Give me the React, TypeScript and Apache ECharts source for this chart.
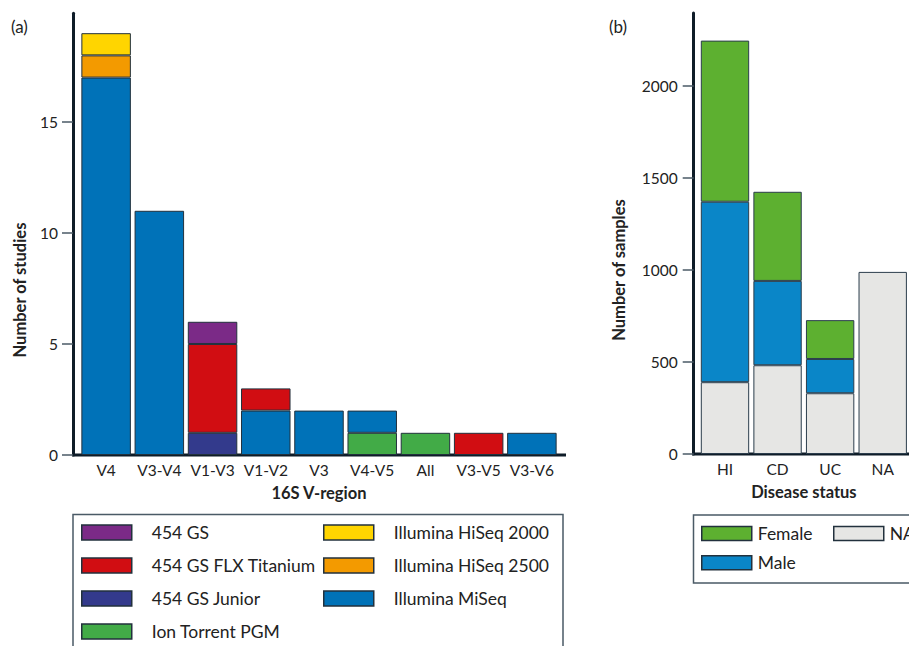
import React, { useEffect, useRef } from "react";
import * as echarts from "echarts";

// ---- Panel (a): platforms per 16S V-region ----
const regions = ["V4", "V3-V4", "V1-V3", "V1-V2", "V3", "V4-V5", "All", "V3-V5", "V3-V6"];
const ionTorrentPGM = [0, 0, 0, 0, 0, 1, 1, 0, 0];
const illuminaMiSeq = [17, 11, 0, 2, 2, 1, 0, 0, 1];
const illuminaHiSeq2500 = [1, 0, 0, 0, 0, 0, 0, 0, 0];
const illuminaHiSeq2000 = [1, 0, 0, 0, 0, 0, 0, 0, 0];
const gsJunior = [0, 0, 1, 0, 0, 0, 0, 0, 0];
const gsFlxTitanium = [0, 0, 4, 1, 0, 0, 0, 1, 0];
const gs454 = [0, 0, 1, 0, 0, 0, 0, 0, 0];
const studyTicks = [0, 5, 10, 15];

// ---- Panel (b): samples per disease status ----
const statuses = ["HI", "CD", "UC", "NA"];
const naSamples = [390, 482, 330, 989];
const maleSamples = [980, 458, 186, 0];
const femaleSamples = [875, 484, 211, 0];
const sampleTicks = [0, 500, 1000, 1500, 2000];

const FONT = "Lato";
const TXT = "#222222";
const AXIS = "#0e1c28";
const TICK = "#4a5a66";
const BORDER = "#22313d";

const clean = (arr: number[]) => arr.map((v) => (v === 0 ? "-" : v));

export default function App() {
  const ref = useRef<HTMLDivElement>(null);

  useEffect(() => {
    if (!ref.current) return;
    const chart = echarts.init(ref.current, null, { renderer: "svg" });

    const seriesA = [
      { name: "Ion Torrent PGM", data: ionTorrentPGM, color: "#42ab47" },
      { name: "Illumina MiSeq", data: illuminaMiSeq, color: "#0072b8" },
      { name: "Illumina HiSeq 2500", data: illuminaHiSeq2500, color: "#f39a00" },
      { name: "Illumina HiSeq 2000", data: illuminaHiSeq2000, color: "#ffd500" },
      { name: "454 GS Junior", data: gsJunior, color: "#333a8c" },
      { name: "454 GS FLX Titanium", data: gsFlxTitanium, color: "#d10d12" },
      { name: "454 GS", data: gs454, color: "#7b2a87" },
    ].map((s) => ({
      type: "bar",
      name: s.name,
      stack: "a",
      xAxisIndex: 0,
      yAxisIndex: 0,
      barCategoryGap: "7%",
      data: clean(s.data),
      itemStyle: { color: s.color, borderColor: BORDER, borderWidth: 1 },
      emphasis: { disabled: true },
    }));

    const seriesB = [
      { name: "NA", data: naSamples, color: "#e6e6e4" },
      { name: "Male", data: maleSamples, color: "#0a86c8" },
      { name: "Female", data: femaleSamples, color: "#5db030" },
    ].map((s) => ({
      type: "bar",
      name: s.name,
      stack: "b",
      xAxisIndex: 1,
      yAxisIndex: 1,
      barCategoryGap: "8%",
      data: clean(s.data),
      itemStyle: { color: s.color, borderColor: "#2b3d4c", borderWidth: 1 },
      emphasis: { disabled: true },
    }));

    const yAxisCommon = (max: number, interval: number, offset: number, margin: number, ticks: number[]) => ({
      type: "value",
      min: 0,
      max,
      interval,
      offset,
      axisLine: { show: true, lineStyle: { color: AXIS, width: 3 } },
      axisTick: { show: true, length: 11, lineStyle: { color: TICK, width: 1.5 } },
      axisLabel: {
        fontFamily: FONT,
        fontSize: 15.5,
        color: TXT,
        margin,
        showMaxLabel: false,
        formatter: (v: number) => (ticks.includes(v) ? String(v) : ""),
      },
      splitLine: { show: false },
    });

    const xAxisCommon = (data: string[], name: string) => ({
      type: "category",
      data,
      name,
      nameLocation: "middle",
      nameGap: 29,
      nameTextStyle: { fontFamily: FONT, fontSize: 16.5, fontWeight: "bold", color: TXT },
      axisLine: { show: false },
      axisTick: { show: false },
      axisLabel: { fontFamily: FONT, fontSize: 15.5, color: TXT, margin: 7, interval: 0 },
    });

    const legendCommon = {
      orient: "vertical",
      icon: "rect",
      itemWidth: 50,
      padding: 0,
      selectedMode: false,
      itemStyle: { borderColor: BORDER, borderWidth: 1.5 },
    };

    chart.setOption({
      animation: false,
      grid: [
        { left: 79.5, width: 479, top: 13.2, height: 441.8 },
        { left: 698.7, width: 214, top: 13, height: 441 },
      ],
      xAxis: [
        { ...xAxisCommon(regions, "16S V-region"), gridIndex: 0 },
        { ...xAxisCommon(statuses, "Disease status"), gridIndex: 1 },
      ],
      yAxis: [
        { ...yAxisCommon(19.9, 5, 6.5, 15, studyTicks), gridIndex: 0 },
        { ...yAxisCommon(2395, 500, 5, 16, sampleTicks), gridIndex: 1 },
      ],
      legend: [
        {
          ...legendCommon,
          left: 81,
          top: 523.5,
          height: 122.5,
          itemHeight: 15,
          itemGap: 15,
          data: ["454 GS", "454 GS FLX Titanium", "454 GS Junior", "Ion Torrent PGM"],
          textStyle: { fontFamily: FONT, fontSize: 17.5, color: TXT, padding: [0, 0, 0, 15] },
        },
        {
          ...legendCommon,
          left: 323,
          top: 523.5,
          height: 122.5,
          itemHeight: 15,
          itemGap: 15,
          data: ["Illumina HiSeq 2000", "Illumina HiSeq 2500", "Illumina MiSeq"],
          textStyle: { fontFamily: FONT, fontSize: 17.5, color: TXT, padding: [0, 0, 0, 15] },
        },
        {
          ...legendCommon,
          left: 701,
          top: 524.5,
          itemHeight: 14,
          itemGap: 11.2,
          data: ["Female", "Male"],
          textStyle: { fontFamily: FONT, fontSize: 17.5, color: TXT, padding: [0, 0, 0, 1] },
        },
        {
          ...legendCommon,
          left: 833,
          top: 524.5,
          itemHeight: 14,
          itemGap: 11.2,
          data: ["NA"],
          textStyle: { fontFamily: FONT, fontSize: 17.5, color: TXT, padding: [0, 0, 0, 1] },
        },
      ],
      graphic: [
        { type: "line", shape: { x1: 72, y1: 455, x2: 566, y2: 455 }, style: { stroke: AXIS, lineWidth: 3 } },
        { type: "line", shape: { x1: 692, y1: 454, x2: 912, y2: 454 }, style: { stroke: AXIS, lineWidth: 3 } },
        { type: "rect", shape: { x: 73, y: 514.5, width: 490, height: 140 }, style: { fill: "none", stroke: TICK, lineWidth: 1.5 } },
        { type: "rect", shape: { x: 693.5, y: 515, width: 240, height: 68 }, style: { fill: "none", stroke: TICK, lineWidth: 1.5 } },
        { type: "text", x: 11, y: 18, style: { text: "(a)", fontFamily: FONT, fontSize: 17, fill: TXT, textVerticalAlign: "top" } },
        { type: "text", x: 609, y: 18, style: { text: "(b)", fontFamily: FONT, fontSize: 17, fill: TXT, textVerticalAlign: "top" } },
        {
          type: "text", x: 19.5, y: 290, rotation: Math.PI / 2,
          style: { text: "Number of studies", fontFamily: FONT, fontSize: 16.5, fontWeight: "bold", fill: TXT, textAlign: "center", textVerticalAlign: "middle" },
        },
        {
          type: "text", x: 619, y: 270, rotation: Math.PI / 2,
          style: { text: "Number of samples", fontFamily: FONT, fontSize: 16.5, fontWeight: "bold", fill: TXT, textAlign: "center", textVerticalAlign: "middle" },
        },
      ],
      series: [...seriesA, ...seriesB],
    });

    return () => chart.dispose();
  }, []);

  return (
    <div
      ref={ref}
      style={{ position: "absolute", left: 0, top: 0, width: 909, height: 646, background: "#ffffff" }}
    />
  );
}
